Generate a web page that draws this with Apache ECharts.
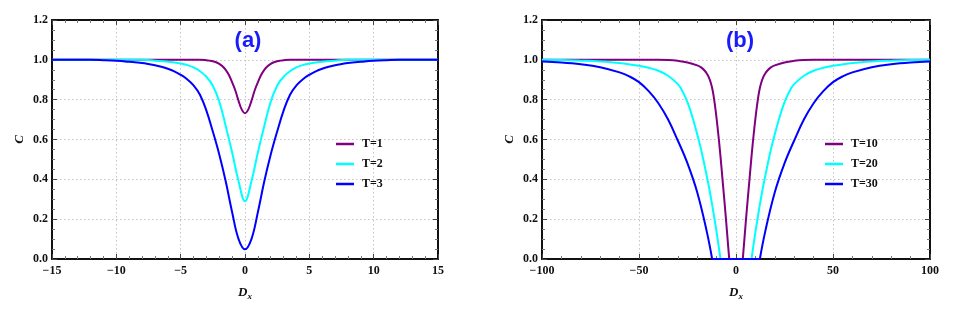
<!DOCTYPE html>
<html>
<head>
<meta charset="utf-8">
<script src="https://cdn.jsdelivr.net/npm/echarts@6/dist/echarts.min.js"></script>
<style>
html,body{margin:0;padding:0;background:#fff;}
#chart{width:954px;height:313px;}
</style>
</head>
<body>
<div id="chart"></div>
<script>
// ---------- Panel (a) ----------
const xTicksA = [-15, -10, -5, 0, 5, 10, 15];
const yTicks = [0.0, 0.2, 0.4, 0.6, 0.8, 1.0, 1.2];

const xT1 = [-15, -3.5, -3, -2.75, -2.5, -2.25, -2, -1.75, -1.5, -1.25, -1, -0.75, -0.5, -0.25, 0,
             0.25, 0.5, 0.75, 1, 1.25, 1.5, 1.75, 2, 2.25, 2.5, 2.75, 3, 3.5, 15];
const yT1 = [1, 1, 0.998, 0.996, 0.993, 0.988, 0.98, 0.968, 0.95, 0.924, 0.887, 0.846, 0.794, 0.750, 0.732,
             0.750, 0.794, 0.846, 0.887, 0.924, 0.95, 0.968, 0.98, 0.988, 0.993, 0.996, 0.998, 1, 1];

const xT2 = [-15, -8, -7, -6, -5.5, -5, -4.5, -4, -3.5, -3, -2.5, -2, -1.5, -1, -0.5, 0,
             0.5, 1, 1.5, 2, 2.5, 3, 3.5, 4, 4.5, 5, 5.5, 6, 7, 8, 15];
const yT2 = [1, 1, 0.996, 0.99, 0.987, 0.982, 0.974, 0.962, 0.943, 0.915, 0.87, 0.79, 0.668, 0.535, 0.39, 0.29,
             0.39, 0.535, 0.668, 0.79, 0.87, 0.915, 0.943, 0.962, 0.974, 0.982, 0.987, 0.99, 0.996, 1, 1];

const xT3 = [-15, -12, -11, -10, -9, -8, -7.5, -7, -6.5, -6, -5.5, -5, -4.5, -4, -3.5, -3, -2.5, -2, -1.5, -1, -0.5, 0,
             0.5, 1, 1.5, 2, 2.5, 3, 3.5, 4, 4.5, 5, 5.5, 6, 6.5, 7, 7.5, 8, 9, 10, 11, 12, 15];
const yT3 = [1, 1, 0.998, 0.995, 0.99, 0.984, 0.979, 0.973, 0.965, 0.955, 0.942, 0.925, 0.903, 0.872, 0.825, 0.745, 0.64, 0.525, 0.39, 0.235, 0.10, 0.049,
             0.10, 0.235, 0.39, 0.525, 0.64, 0.745, 0.825, 0.872, 0.903, 0.925, 0.942, 0.955, 0.965, 0.973, 0.979, 0.984, 0.99, 0.995, 0.998, 1, 1];

// ---------- Panel (b) ----------
const xTicksB = [-100, -50, 0, 50, 100];

const xT10L = [-100, -40, -35, -30, -25, -20, -18, -16, -15, -14, -13, -12, -11, -10, -9, -8, -7, -6, -5, -4, -3.5];
const yT10L = [1, 1, 0.999, 0.995, 0.987, 0.972, 0.962, 0.944, 0.93, 0.912, 0.885, 0.845, 0.783, 0.705, 0.615, 0.515, 0.405, 0.295, 0.18, 0.06, 0];
const xT10R = [3.5, 4, 5, 6, 7, 8, 9, 10, 11, 12, 13, 14, 15, 16, 18, 20, 25, 30, 35, 40, 100];
const yT10R = [0, 0.06, 0.18, 0.295, 0.405, 0.515, 0.615, 0.705, 0.783, 0.845, 0.885, 0.912, 0.93, 0.944, 0.962, 0.972, 0.987, 0.995, 0.999, 1, 1];

const xT20L = [-100, -90, -80, -70, -60, -50, -45, -40, -35, -30, -28, -26, -24, -22, -20, -18, -16, -14, -12, -10, -8];
const yT20L = [1, 0.999, 0.996, 0.992, 0.984, 0.97, 0.96, 0.945, 0.92, 0.878, 0.85, 0.81, 0.76, 0.697, 0.627, 0.55, 0.46, 0.365, 0.255, 0.135, 0];
const xT20R = [8, 10, 12, 14, 16, 18, 20, 22, 24, 26, 28, 30, 35, 40, 45, 50, 60, 70, 80, 90, 100];
const yT20R = [0, 0.135, 0.255, 0.365, 0.46, 0.55, 0.627, 0.697, 0.76, 0.81, 0.85, 0.878, 0.92, 0.945, 0.96, 0.97, 0.984, 0.992, 0.996, 0.999, 1];

const xT30L = [-100, -90, -80, -70, -60, -55, -50, -45, -40, -35, -30, -25, -20, -15, -12.3];
const yT30L = [0.992, 0.987, 0.978, 0.963, 0.937, 0.917, 0.888, 0.843, 0.782, 0.70, 0.595, 0.48, 0.335, 0.135, 0];
const xT30R = [12.3, 15, 20, 25, 30, 35, 40, 45, 50, 55, 60, 70, 80, 90, 100];
const yT30R = [0, 0.135, 0.335, 0.48, 0.595, 0.70, 0.782, 0.843, 0.888, 0.917, 0.937, 0.963, 0.978, 0.987, 0.992];

const namesA = ['T=1', 'T=2', 'T=3'];
const namesB = ['T=10', 'T=20', 'T=30'];
const colors = ['#800080', '#00ffff', '#0000ff'];

function pairs(xs, ys) { return xs.map((x, i) => [x, ys[i]]); }

const SERIF = '"Liberation Serif", "Times New Roman", serif';
const fmtX = v => (v < 0 ? '\u2212' + Math.abs(v) : String(v));

const grids = [
  { left: 52, top: 20, width: 386, height: 239 },
  { left: 542, top: 20, width: 388, height: 239 }
];

function mainX(gi, min, max, interval) {
  return {
    type: 'value', gridIndex: gi, min, max, interval, position: 'bottom',
    axisLine: { show: true, onZero: false, lineStyle: { color: '#111', width: 2 } },
    axisTick: { show: true, inside: true, length: 5, lineStyle: { color: '#444', width: 1 } },
    minorTick: { show: true, splitNumber: 5, length: 3, lineStyle: { color: '#777', width: 1 } },
    axisLabel: { formatter: fmtX, margin: 6, color: '#111', fontFamily: SERIF, fontWeight: 'bold', fontSize: 12 },
    splitLine: { show: true, lineStyle: { color: '#c4c4c4', type: [1.5, 2.5], width: 1 } },
    name: '{d|D}{s|x}', nameLocation: 'middle', nameGap: 26,
    nameTextStyle: {
      rich: {
        d: { fontFamily: SERIF, fontStyle: 'italic', fontWeight: 'bold', fontSize: 13, color: '#111', lineHeight: 16, verticalAlign: 'middle' },
        s: { fontFamily: SERIF, fontStyle: 'italic', fontWeight: 'bold', fontSize: 9, color: '#111', lineHeight: 16, verticalAlign: 'bottom', padding: [6, 0, 0, 0] }
      }
    }
  };
}
function topX(gi, min, max, interval) {
  return {
    type: 'value', gridIndex: gi, min, max, interval, position: 'top',
    axisLine: { show: true, onZero: false, lineStyle: { color: '#111', width: 2 } },
    axisTick: { show: true, inside: true, length: 5, lineStyle: { color: '#444', width: 1 } },
    minorTick: { show: true, splitNumber: 5, length: 3, lineStyle: { color: '#777', width: 1 } },
    axisLabel: { show: false }, splitLine: { show: false }
  };
}
function mainY(gi) {
  return {
    type: 'value', gridIndex: gi, min: 0, max: 1.2, interval: 0.2, position: 'left',
    axisLine: { show: true, onZero: false, lineStyle: { color: '#111', width: 2 } },
    axisTick: { show: true, inside: true, length: 5, lineStyle: { color: '#444', width: 1 } },
    minorTick: { show: true, splitNumber: 4, length: 3, lineStyle: { color: '#777', width: 1 } },
    axisLabel: { formatter: v => v.toFixed(1), margin: 4, color: '#111', fontFamily: SERIF, fontWeight: 'bold', fontSize: 12 },
    splitLine: { show: true, lineStyle: { color: '#c4c4c4', type: [1.5, 2.5], width: 1 } },
    name: 'C', nameLocation: 'middle', nameGap: 26, nameRotate: 90,
    nameTextStyle: { fontFamily: SERIF, fontStyle: 'italic', fontWeight: 'bold', fontSize: 13, color: '#111' }
  };
}
function rightY(gi) {
  return {
    type: 'value', gridIndex: gi, min: 0, max: 1.2, interval: 0.2, position: 'right',
    axisLine: { show: true, onZero: false, lineStyle: { color: '#111', width: 2 } },
    axisTick: { show: true, inside: true, length: 5, lineStyle: { color: '#444', width: 1 } },
    minorTick: { show: true, splitNumber: 4, length: 3, lineStyle: { color: '#777', width: 1 } },
    axisLabel: { show: false }, splitLine: { show: false }
  };
}

function lineSeries(name, data, color, xi, yi, smooth, clip) {
  return {
    type: 'line', name, data, xAxisIndex: xi, yAxisIndex: yi,
    showSymbol: false, symbol: 'none', smooth: smooth, animation: false,
    clip: clip !== false,
    lineStyle: { color, width: 2 }, itemStyle: { color }, z: 3
  };
}

const series = [
  lineSeries(namesA[0], pairs(xT1, yT1), colors[0], 0, 0, 0.4),
  lineSeries(namesA[1], pairs(xT2, yT2), colors[1], 0, 0, 0.4),
  lineSeries(namesA[2], pairs(xT3, yT3), colors[2], 0, 0, 0.4),
  lineSeries(namesB[0], pairs(xT10L, yT10L), colors[0], 2, 2, 0.4),
  lineSeries(namesB[0], [[xT10L[xT10L.length - 1], 0], [xT10R[0], 0]], colors[0], 2, 2, false, false),
  lineSeries(namesB[0], pairs(xT10R, yT10R), colors[0], 2, 2, 0.4),
  lineSeries(namesB[1], pairs(xT20L, yT20L), colors[1], 2, 2, 0.4),
  lineSeries(namesB[1], [[xT20L[xT20L.length - 1], 0], [xT20R[0], 0]], colors[1], 2, 2, false, false),
  lineSeries(namesB[1], pairs(xT20R, yT20R), colors[1], 2, 2, 0.4),
  lineSeries(namesB[2], pairs(xT30L, yT30L), colors[2], 2, 2, 0.4),
  lineSeries(namesB[2], [[xT30L[xT30L.length - 1], 0], [xT30R[0], 0]], colors[2], 2, 2, false, false),
  lineSeries(namesB[2], pairs(xT30R, yT30R), colors[2], 2, 2, 0.4)
];

function legend(names, left) {
  return {
    data: names, orient: 'vertical', left, top: 132,
    icon: 'rect', itemWidth: 18, itemHeight: 2.5, itemGap: 6,
    selectedMode: false,
    textStyle: { fontFamily: SERIF, fontWeight: 'bold', fontSize: 12, color: '#111', lineHeight: 14, padding: [0, 0, 0, 3] }
  };
}

const option = {
  animation: false,
  backgroundColor: '#ffffff',
  grid: grids,
  xAxis: [mainX(0, -15, 15, 5), topX(0, -15, 15, 5), mainX(1, -100, 100, 50), topX(1, -100, 100, 50)],
  yAxis: [mainY(0), rightY(0), mainY(1), rightY(1)],
  legend: [legend(namesA, 331), legend(namesB, 820)],
  graphic: [
    { type: 'text', z: 100, x: 248, y: 41, style: { text: '(a)', fill: '#1a1aff', font: 'bold 22px "Liberation Sans", Arial, sans-serif', textAlign: 'center', textVerticalAlign: 'middle' } },
    { type: 'text', z: 100, x: 740, y: 41, style: { text: '(b)', fill: '#1a1aff', font: 'bold 22px "Liberation Sans", Arial, sans-serif', textAlign: 'center', textVerticalAlign: 'middle' } }
  ],
  series
};

const chart = echarts.init(document.getElementById('chart'), null, { renderer: 'canvas' });
chart.setOption(option);
</script>
</body>
</html>
